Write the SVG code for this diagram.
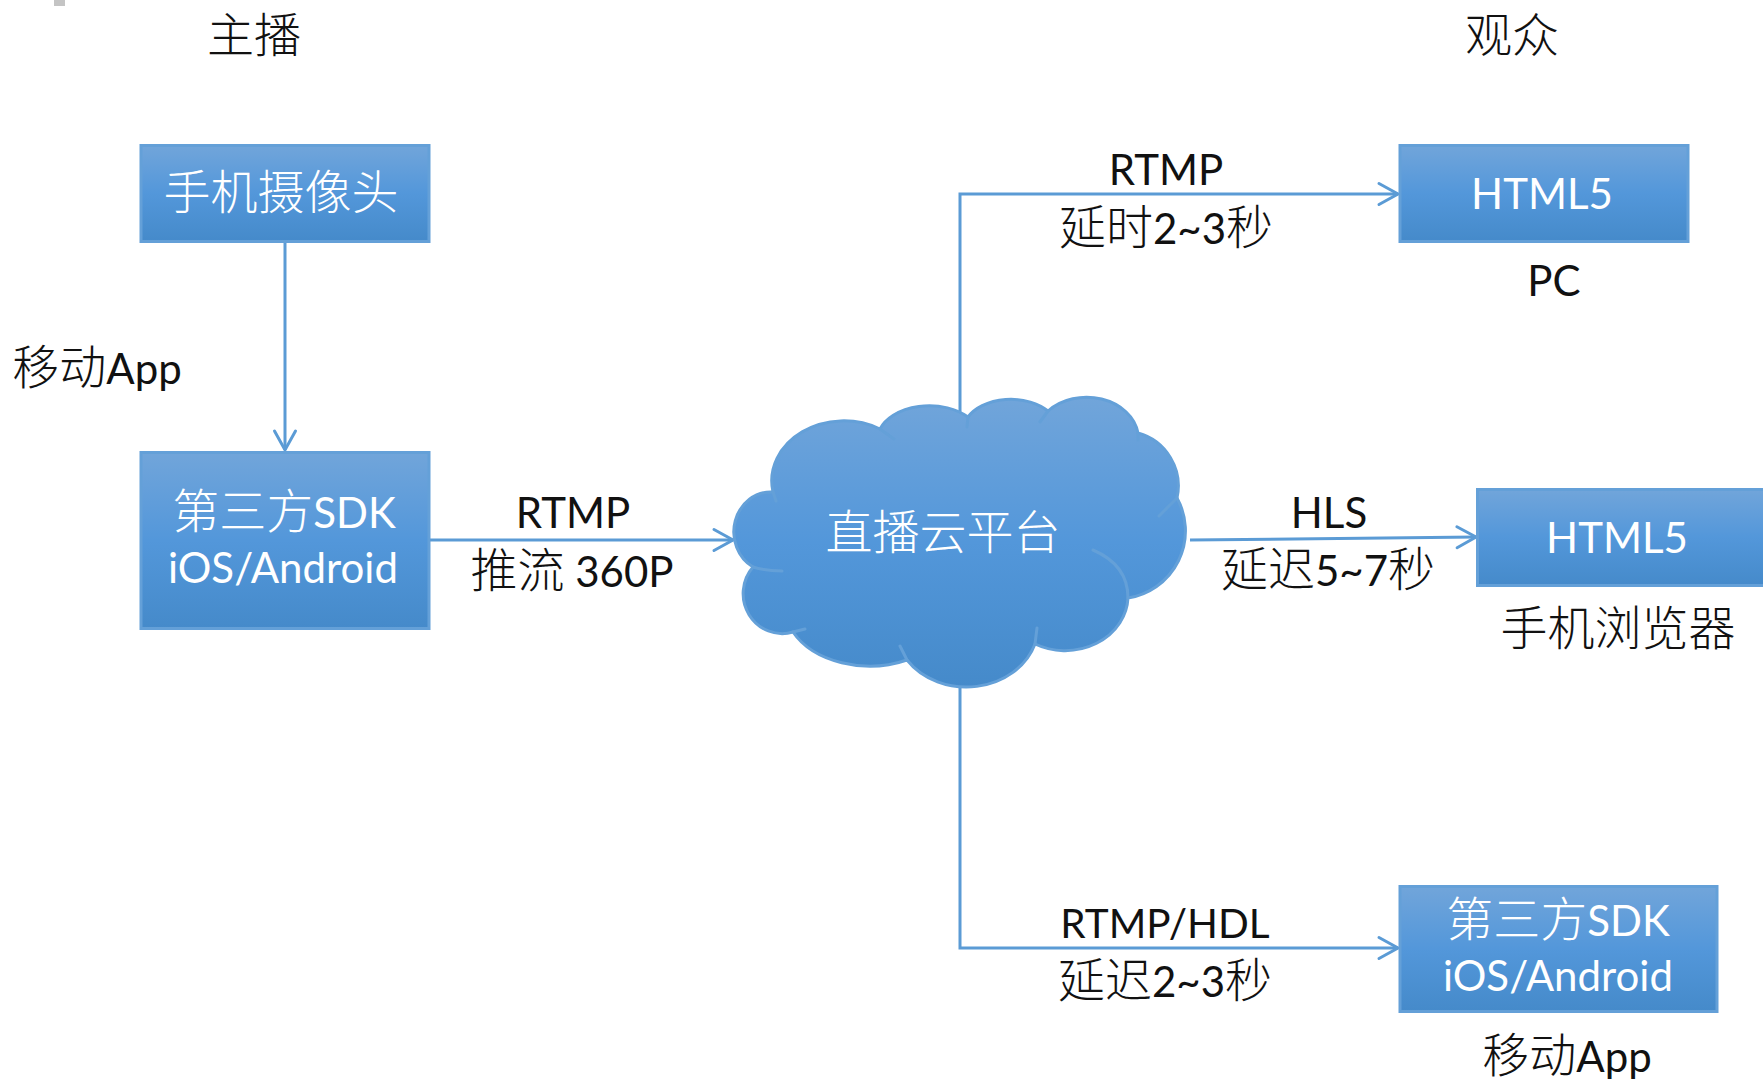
<svg xmlns="http://www.w3.org/2000/svg" width="1763" height="1081" viewBox="0 0 1763 1081">
<style>
text{font-family:"Lato","Noto Sans CJK SC",sans-serif;font-size:42px;text-anchor:middle}
.k{fill:#111}
.w{fill:#fff}
.c{font-size:47px;font-family:"Noto Sans CJK SC",sans-serif;font-weight:300}
.box{fill:url(#g);stroke:#64a0d8;stroke-width:3}
.line{fill:none;stroke:#5b9bd5;stroke-width:3}
.in{fill:none;stroke:#64a0d8;stroke-width:3;stroke-linecap:round}
</style>
<defs>
<linearGradient id="g" x1="0" y1="0" x2="0" y2="1"><stop offset="0" stop-color="#71a5da"/><stop offset=".5" stop-color="#5397da"/><stop offset="1" stop-color="#458aca"/></linearGradient>
<marker id="a" markerUnits="userSpaceOnUse" markerWidth="24" markerHeight="26" refX="20" refY="12" orient="auto" overflow="visible"><path d="M1 1.500L20 12L1 22.500" fill="none" stroke="#5b9bd5" stroke-width="3" stroke-linecap="round"/></marker>
</defs>
<rect id="corner-mark" x="54" y="0" width="11" height="6" fill="#c4c4c4"/>
<g id="connectors">
<path class="line" marker-end="url(#a)" d="M285 242V450"/>
<path class="line" marker-end="url(#a)" d="M430 540H733"/>
<path class="line" marker-end="url(#a)" d="M960 420V194H1398"/>
<path class="line" marker-end="url(#a)" d="M1190 540L1476 537"/>
<path class="line" marker-end="url(#a)" d="M960 680V948H1398"/>
</g>
<g id="node-camera"><rect class="box" x="141" y="145.500" width="288" height="96"/><text class="w c" x="281" y="209">手机摄像头</text></g>
<g id="node-sdk-left"><rect class="box" x="141" y="452.500" width="288" height="176"/><text class="w" x="284" y="528"><tspan class="c">第三方</tspan>SDK</text><text class="w" x="283" y="583">iOS/Android</text></g>
<g id="node-cloud">
<path d="M773 492A72 60 0 0 1 880 429A52 34 0 0 1 968 417A48 32 0 0 1 1048 411A52 42 0 0 1 1138 433A55 55 0 0 1 1177 498A68 68 0 0 1 1128 598A63 55 0 0 1 1035 644A72 62 0 0 1 907 660A85 60 0 0 1 793 632A39 40 0 0 1 753 567A37 40 0 0 1 773 492Z" fill="url(#g)" stroke="#64a0d8" stroke-width="3"/>
<path class="in" d="M880 429L894 439M968 417L967 427M1048 411L1040 422M1138 433V440M1177 498L1159 516M1093 550Q1128 565 1128 598M1035 644L1037 628M907 660L900 646M793 632L805 629M753 567Q766 571 782 571M773 492L776 501"/>
<text class="w c" x="943" y="549">直播云平台</text></g>
<g id="node-html5-pc"><rect class="box" x="1400" y="145.500" width="288" height="96"/><text class="w" x="1542" y="209">HTML5</text></g>
<g id="node-html5-mobile"><rect class="box" x="1477.500" y="489.500" width="290" height="96"/><text class="w" x="1617" y="553">HTML5</text></g>
<g id="node-sdk-right"><rect class="box" x="1400" y="886.500" width="317" height="125"/><text class="w" x="1558" y="936"><tspan class="c">第三方</tspan>SDK</text><text class="w" x="1558" y="991">iOS/Android</text></g>
<g id="labels">
<text class="k c" x="254" y="52">主播</text>
<text class="k c" x="1512" y="52">观众</text>
<text class="k" x="97" y="384"><tspan class="c">移动</tspan>App</text>
<text class="k" x="573" y="528">RTMP</text>
<text class="k" x="572" y="587"><tspan class="c">推流</tspan> 360P</text>
<text class="k" x="1166" y="185">RTMP</text>
<text class="k" x="1166" y="244"><tspan class="c">延时</tspan>2~3<tspan class="c">秒</tspan></text>
<text class="k" x="1554" y="296">PC</text>
<text class="k" x="1329" y="528">HLS</text>
<text class="k" x="1328" y="586"><tspan class="c">延迟</tspan>5~7<tspan class="c">秒</tspan></text>
<text class="k c" x="1618" y="645">手机浏览器</text>
<text class="k" x="1165" y="938" style="font-size:40.500px">RTMP/HDL</text>
<text class="k" x="1165" y="997"><tspan class="c">延迟</tspan>2~3<tspan class="c">秒</tspan></text>
<text class="k" x="1567" y="1072"><tspan class="c">移动</tspan>App</text>
</g>
</svg>
